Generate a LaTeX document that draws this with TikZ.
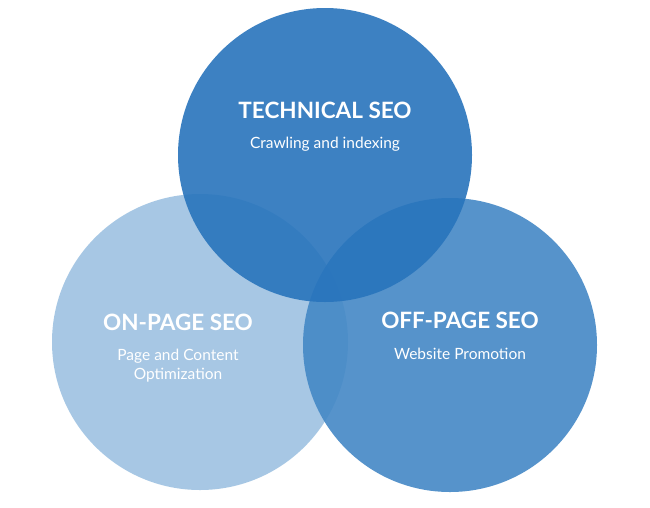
\documentclass[tikz,border=0pt]{standalone}
\usepackage{fontspec}
\setmainfont{Lato}
\begin{document}
\begin{tikzpicture}[x=1pt,y=-1pt,
  circ/.style={fill opacity=0.9,draw=none},
  ttl/.style={text=white,font=\fontsize{22.5}{26}\selectfont\bfseries},
  sub/.style={text=white,font=\fontsize{15.5}{19}\selectfont,align=center}]
\useasboundingbox[fill=white] (0,0) rectangle (650,507);
\fill[circ,fill={rgb,255:red,158;green,194;blue,226}] (200,342) circle (148);
\fill[circ,fill={rgb,255:red,68;green,136;blue,198}] (450,345) circle (147);
\fill[circ,fill={rgb,255:red,40;green,116;blue,188}] (325,155) circle (147);
\node[ttl] (t1) at (325,110) {TECHNICAL SEO};
\node[sub] (s1) at (325,144) {Crawling and indexing};
\node[ttl] (t2) at (178,322) {ON-PAGE SEO};
\node[sub] (s2) at (178,366) {Page and Content\\Optimization};
\node[ttl] (t3) at (460,320) {OFF-PAGE SEO};
\node[sub] (s3) at (460,354) {Website Promotion};
\end{tikzpicture}
\end{document}
